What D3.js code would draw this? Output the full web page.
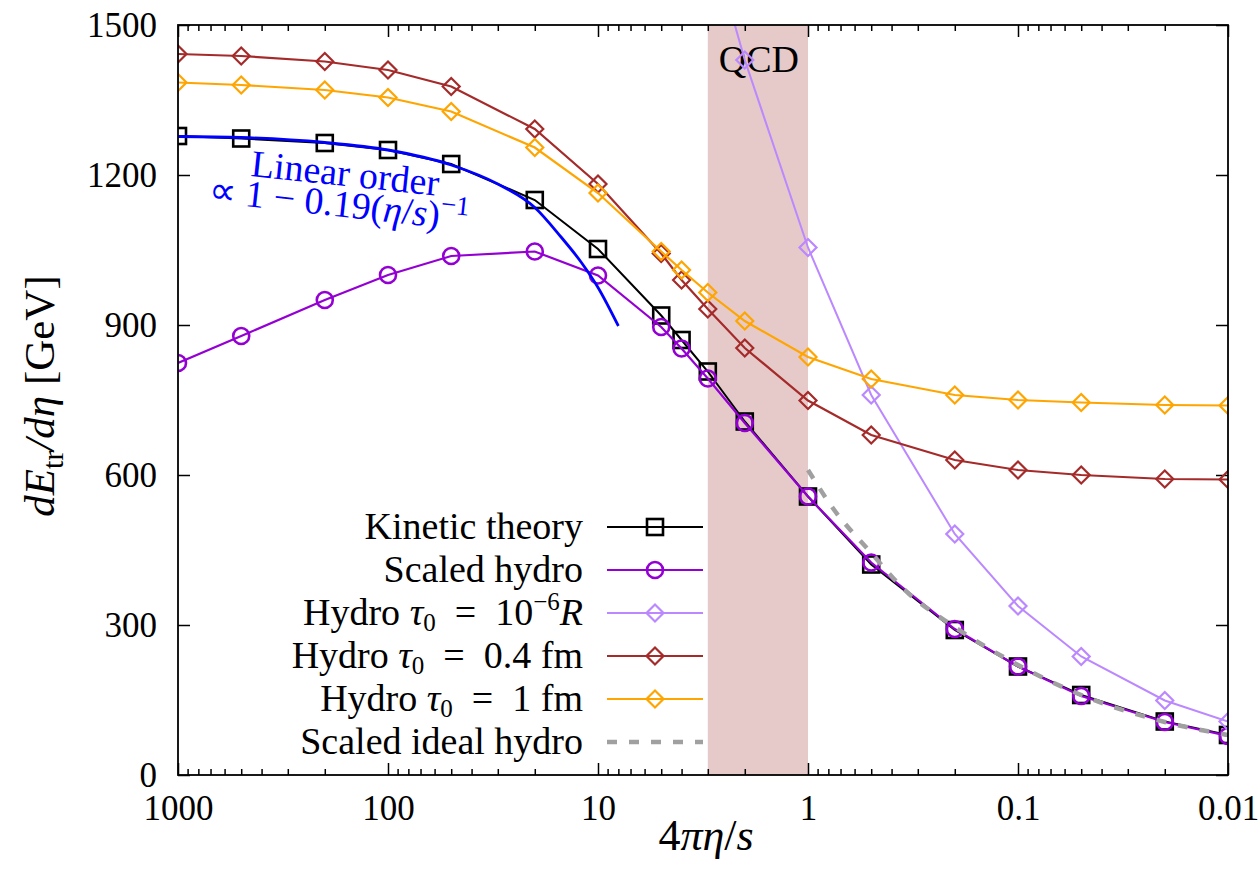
<!DOCTYPE html>
<html lang="en">
<head>
<meta charset="utf-8">
<title>dE/deta vs 4 pi eta/s</title>
<script src="https://d3js.org/d3.v7.min.js"></script>
<style>
  body { margin: 0; background: #fff; }
  text { font-family: "Liberation Serif", serif; }
  .tick text { font-size: 35px; font-family: "Liberation Serif", serif; }
  .tick line { stroke: #000; stroke-width: 1.5; }
</style>
</head>
<body>
<div id="chart"></div>
<script>
// x values (4 pi eta / s)
const etaS = [1000, 500, 200, 100, 50, 20, 10, 5, 4, 3, 2, 1, 0.5, 0.2, 0.1, 0.05, 0.02, 0.01];
const kinetic = [1278, 1273, 1264, 1250, 1222, 1150, 1052, 919, 870, 807, 707, 557, 421, 290, 217, 160, 107, 80];
const scaledHydro = [824, 878, 950, 1000, 1038, 1047, 999, 896, 853, 793, 704, 557, 425, 292, 217, 158, 106, 78];
const hydro04 = [1442, 1438, 1427, 1410, 1377, 1292, 1182, 1043, 990, 932, 854, 749, 680, 630, 610, 600, 592, 591];
const hydro1 = [1385, 1380, 1370, 1355, 1327, 1255, 1164, 1047, 1010, 965, 908, 836, 792, 760, 750, 745, 740, 739];

const hydroRx = [3, 2, 1, 0.5, 0.2, 0.1, 0.05, 0.02, 0.01];
const hydroR = [1690, 1430, 1055, 760, 482, 338, 237, 149, 107];

const idealX = [1, 0.75, 0.5, 0.35, 0.2, 0.1, 0.05, 0.02, 0.01];
const idealHydro = [610, 530, 444, 372, 296, 220, 160, 106, 80];

const linearX = [1000, 500, 200, 100, 50, 30, 20, 15, 12, 10, 8];
const linearOrder = [1277, 1275, 1265, 1250, 1220, 1182, 1135, 1076, 1025, 975, 898];

const qcdBand = [3, 1];
const xMajor = [1000, 100, 10, 1, 0.1, 0.01];
const xTickLabels = ["1000", "100", "10", "1", "0.1", "0.01"];
const yTicks = [0, 300, 600, 900, 1200, 1500];

const width = 1259, height = 883;
const marginLeft = 178, marginRight = 31, marginTop = 25, marginBottom = 108;

const svg = d3.select("#chart").append("svg")
  .attr("width", width).attr("height", height)
  .attr("viewBox", [0, 0, width, height]);

const x = d3.scaleLog().domain([1000, 0.01]).range([marginLeft, width - marginRight]);
const y = d3.scaleLinear().domain([0, 1500]).range([height - marginBottom, marginTop]);

svg.append("clipPath").attr("id", "plot-clip")
  .append("rect")
  .attr("x", marginLeft).attr("y", marginTop)
  .attr("width", x.range()[1] - marginLeft).attr("height", y(0) - marginTop);

// QCD band
svg.append("rect")
  .attr("x", x(qcdBand[0])).attr("y", marginTop)
  .attr("width", x(qcdBand[1]) - x(qcdBand[0]))
  .attr("height", y(0) - marginTop)
  .attr("fill", "#e6c9c9");

svg.append("text")
  .attr("x", (x(qcdBand[0]) + x(qcdBand[1])) / 2 + 1).attr("y", 72)
  .attr("text-anchor", "middle")
  .style("font-size", "38px")
  .text("QCD");

// axes, ticks pointing inward on all four sides
const minor = x.ticks().filter(v => !xMajor.some(m => Math.abs(m - v) / m < 1e-6));
const plotBottom = y(0), plotRight = x.range()[1];

svg.append("g").attr("transform", `translate(0,${plotBottom})`)
  .call(d3.axisBottom(x).tickValues(xMajor).tickSize(-12).tickPadding(20)
    .tickFormat((d, i) => xTickLabels[i]))
  .call(g => g.select(".domain").remove());
svg.append("g").attr("transform", `translate(0,${plotBottom})`)
  .call(d3.axisBottom(x).tickValues(minor).tickSize(-6).tickFormat(""))
  .call(g => g.select(".domain").remove());
svg.append("g").attr("transform", `translate(0,${marginTop})`)
  .call(d3.axisTop(x).tickValues(xMajor).tickSize(-12).tickFormat(""))
  .call(g => g.select(".domain").remove());
svg.append("g").attr("transform", `translate(0,${marginTop})`)
  .call(d3.axisTop(x).tickValues(minor).tickSize(-6).tickFormat(""))
  .call(g => g.select(".domain").remove());
svg.append("g").attr("transform", `translate(${marginLeft},0)`)
  .call(d3.axisLeft(y).tickValues(yTicks).tickSize(-12).tickPadding(21).tickFormat(d3.format("d")))
  .call(g => g.select(".domain").remove());
svg.append("g").attr("transform", `translate(${plotRight},0)`)
  .call(d3.axisRight(y).tickValues(yTicks).tickSize(-12).tickFormat(""))
  .call(g => g.select(".domain").remove());

svg.selectAll(".tick text").attr("fill", "#000");

// markers
function marker(g, shape, color, cx, cy) {
  if (shape === "square") {
    g.append("rect").attr("x", cx - 8).attr("y", cy - 8).attr("width", 16).attr("height", 16)
      .attr("fill", "none").attr("stroke", color).attr("stroke-width", 2.6);
  } else if (shape === "circle") {
    g.append("circle").attr("cx", cx).attr("cy", cy).attr("r", 8)
      .attr("fill", "none").attr("stroke", color).attr("stroke-width", 2.6);
  } else if (shape === "diamond") {
    const s = 8.5;
    g.append("path").attr("d", `M${cx},${cy - s}L${cx + s},${cy}L${cx},${cy + s}L${cx - s},${cy}Z`)
      .attr("fill", "none").attr("stroke", color).attr("stroke-width", 2.2);
  }
}

const eq = "\u2002=\u2002";
const series = [
  { xs: etaS, ys: kinetic, color: "#000000", shape: "square", width: 2,
    label: [{ t: "Kinetic theory" }] },
  { xs: etaS, ys: scaledHydro, color: "#9400d3", shape: "circle", width: 2.2,
    label: [{ t: "Scaled hydro" }] },
  { xs: hydroRx, ys: hydroR, color: "#bb88ff", shape: "diamond", width: 2,
    label: [{ t: "Hydro " }, { t: "τ", i: true }, { t: "0", sub: true }, { t: eq + "10" }, { t: "−6", sup: true }, { t: "R", i: true }] },
  { xs: etaS, ys: hydro04, color: "#a52a2a", shape: "diamond", width: 2.2,
    label: [{ t: "Hydro " }, { t: "τ", i: true }, { t: "0", sub: true }, { t: eq + "0.4 fm" }] },
  { xs: etaS, ys: hydro1, color: "#ffa500", shape: "diamond", width: 2.2,
    label: [{ t: "Hydro " }, { t: "τ", i: true }, { t: "0", sub: true }, { t: eq + "1 fm" }] },
  { xs: idealX, ys: idealHydro, color: "#a0a0a0", shape: null, width: 4.5, dash: "10,12", smooth: true,
    label: [{ t: "Scaled ideal hydro" }] }
];

const plot = svg.append("g").attr("clip-path", "url(#plot-clip)");

series.forEach(s => {
  const pts = s.xs.map((v, i) => [x(v), y(s.ys[i])]);
  const line = d3.line().curve(s.smooth ? d3.curveMonotoneX : d3.curveLinear);
  plot.append("path").attr("d", line(pts))
    .attr("fill", "none").attr("stroke", s.color).attr("stroke-width", s.width)
    .attr("stroke-dasharray", s.dash || null);
  if (s.shape) {
    const mg = plot.append("g");
    pts.forEach(p => marker(mg, s.shape, s.color, p[0], p[1]));
  }
});

// linear-order curve
plot.append("path")
  .attr("d", d3.line().curve(d3.curveMonotoneX)(linearX.map((v, i) => [x(v), y(linearOrder[i])])))
  .attr("fill", "none").attr("stroke", "#0000ff").attr("stroke-width", 2.8);

const lin = svg.append("g").attr("fill", "#0000ff").style("font-size", "38px");
lin.append("text").attr("transform", "translate(250,176) rotate(6)").text("Linear order");
const f = lin.append("text").attr("transform", "translate(208,202) rotate(6.3)");
f.append("tspan").text("∝ 1 − 0.19(");
f.append("tspan").style("font-style", "italic").text("η");
f.append("tspan").text("/");
f.append("tspan").style("font-style", "italic").text("s");
f.append("tspan").text(")");
f.append("tspan").attr("dy", -15).style("font-size", "27px").text("−1");

// legend
function richText(sel, parts, bigSize, smallSize) {
  let shift = 0;
  parts.forEach(p => {
    const ts = sel.append("tspan").text(p.t);
    let target = p.sub ? 6 : p.sup ? -15 : 0;
    if (target !== shift) { ts.attr("dy", target - shift); shift = target; }
    if (p.i) ts.style("font-style", "italic");
    ts.style("font-size", (p.sub || p.sup) ? smallSize : bigSize);
  });
}

const legend = svg.append("g");
series.forEach((s, i) => {
  const ly = 527 + i * 43;
  const t = legend.append("text").attr("x", 583).attr("y", ly + 12).attr("text-anchor", "end");
  richText(t, s.label, "38px", "25px");
  legend.append("line").attr("x1", 607).attr("x2", 703).attr("y1", ly).attr("y2", ly)
    .attr("stroke", s.color).attr("stroke-width", s.width).attr("stroke-dasharray", s.dash || null);
  if (s.shape) marker(legend, s.shape, s.color, 655, ly);
});

// frame
svg.append("rect")
  .attr("x", marginLeft).attr("y", marginTop)
  .attr("width", plotRight - marginLeft).attr("height", plotBottom - marginTop)
  .attr("fill", "none").attr("stroke", "#000").attr("stroke-width", 1.8);

// axis titles
const xl = svg.append("text").attr("x", 706).attr("y", 850)
  .attr("text-anchor", "middle").style("font-size", "44px");
xl.append("tspan").text("4");
xl.append("tspan").style("font-style", "italic").text("πη");
xl.append("tspan").text("/");
xl.append("tspan").style("font-style", "italic").text("s");

const yl = svg.append("text").attr("transform", `translate(54,396) rotate(-90)`)
  .attr("text-anchor", "middle").style("font-size", "43px");
yl.append("tspan").style("font-style", "italic").text("dE");
yl.append("tspan").attr("dy", 9).style("font-size", "30px").text("tr");
yl.append("tspan").attr("dy", -9).style("font-style", "italic").text("/dη");
yl.append("tspan").text(" [GeV]");
</script>
</body>
</html>
